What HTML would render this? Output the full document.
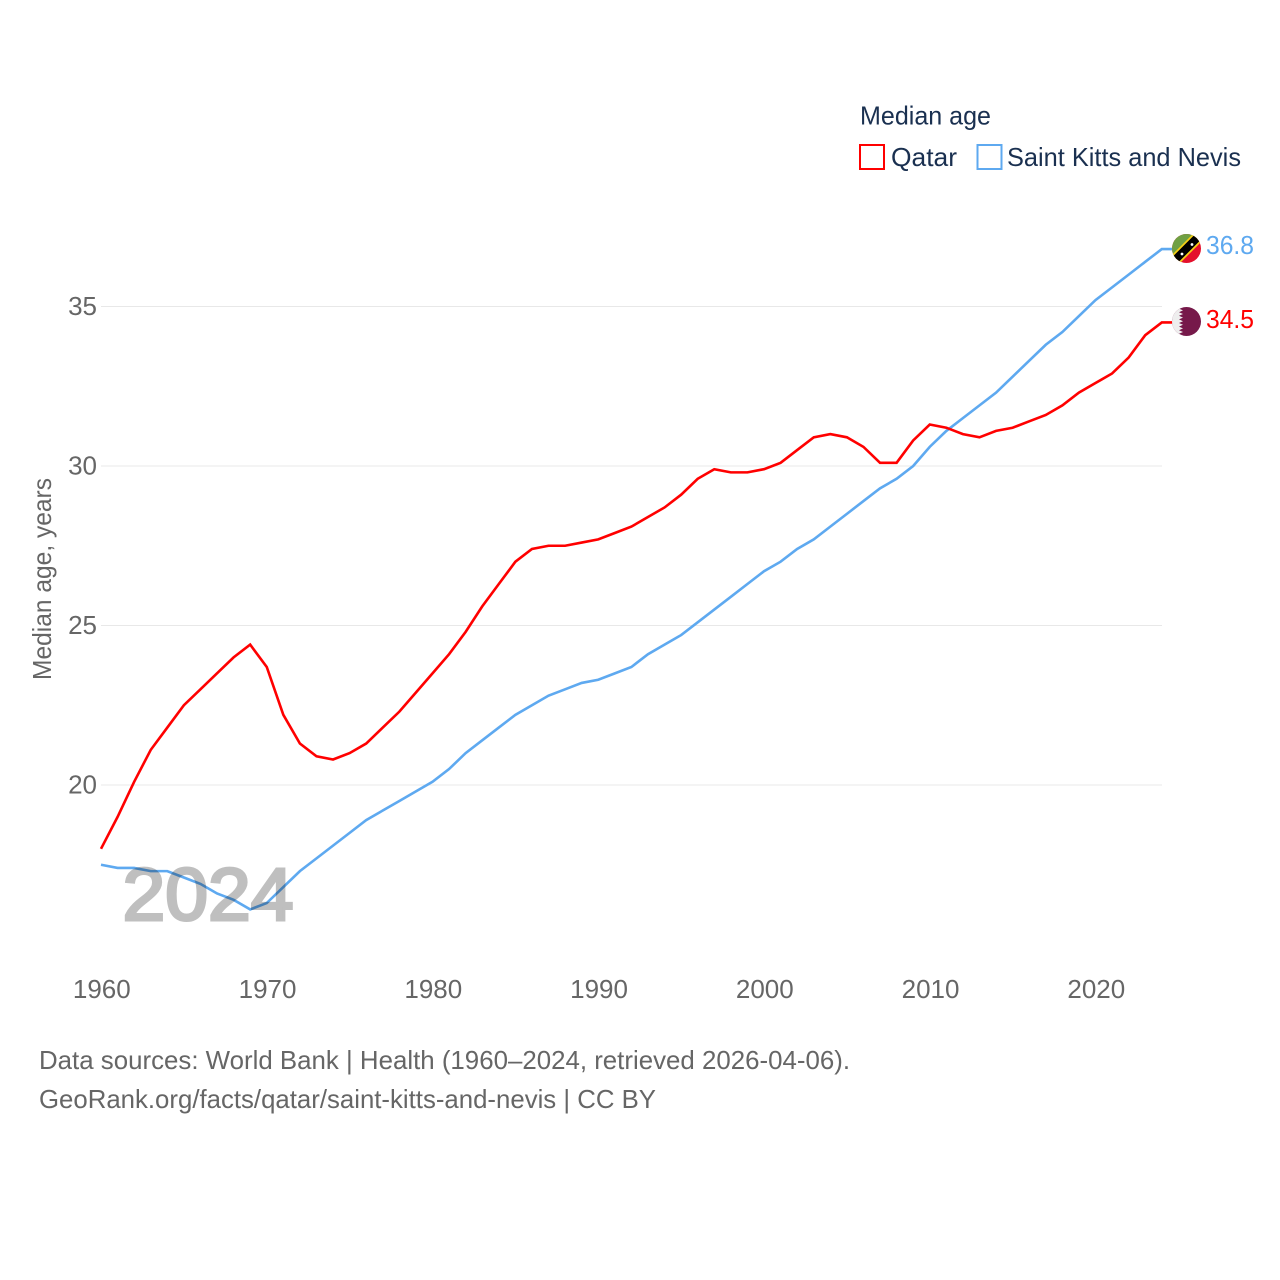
<!DOCTYPE html>
<html lang="en">
<head>
<meta charset="utf-8">
<title>Median age: Qatar and Saint Kitts and Nevis</title>
<style>
html,body{margin:0;padding:0;background:#fff;}
svg{display:block;}
text{font-family:"Liberation Sans",sans-serif;}
</style>
</head>
<body>
<svg id="chart" width="1280" height="1280" viewBox="0 0 1280 1280" xmlns="http://www.w3.org/2000/svg">
  <defs>
    <clipPath id="skn-clip"><circle cx="1186.5" cy="248.5" r="14.5"/></clipPath>
    <clipPath id="qat-clip"><circle cx="1186.5" cy="321.5" r="14.5"/></clipPath>
  </defs>
  <rect x="0" y="0" width="1280" height="1280" fill="#ffffff"/>
  <g id="grid"></g>
  <g id="y-ticks"></g>
  <g id="x-ticks"></g>
  <text transform="translate(51 579) rotate(-90)" text-anchor="middle" font-size="26" fill="#666666" textLength="202" lengthAdjust="spacingAndGlyphs">Median age, years</text>
  <g id="series"></g>
  <text x="122.5" y="920" font-size="74" fill="#bfbfbf" stroke="#bfbfbf" stroke-width="3" textLength="171" lengthAdjust="spacingAndGlyphs" style="mix-blend-mode:multiply">2024</text>

  <g clip-path="url(#skn-clip)">
    <rect x="1170" y="232" width="33" height="33" fill="#e4102c"/>
    <polygon points="1170,232 1203,232 1170,265" fill="#6fa043"/>
    <line x1="1170" y1="265" x2="1203" y2="232" stroke="#f7d116" stroke-width="11.5"/>
    <line x1="1170" y1="265" x2="1203" y2="232" stroke="#000000" stroke-width="8"/>
    <circle cx="1192" cy="244.5" r="1.4" fill="#ffffff"/>
    <circle cx="1182" cy="254" r="1.4" fill="#ffffff"/>
  </g>
  <g clip-path="url(#qat-clip)">
    <rect x="1170" y="305" width="33" height="33" fill="#76194a"/>
    <polygon points="1170,305 1179,305 1183,306.8 1179,308.6 1183,310.4 1179,312.2 1183,314 1179,315.8 1183,317.6 1179,319.4 1183,321.2 1179,323 1183,324.8 1179,326.6 1183,328.4 1179,330.2 1183,332 1179,333.8 1183,335.6 1179,338 1170,338" fill="#eeeeee"/>
  </g>

  <text x="1206" y="328" font-size="26" fill="#ff0000" textLength="48" lengthAdjust="spacingAndGlyphs">34.5</text>
  <text x="1206" y="254" font-size="26" fill="#5ea9f0" textLength="48" lengthAdjust="spacingAndGlyphs">36.8</text>

  <text x="860" y="124.5" font-size="26" fill="#1a3050" textLength="131" lengthAdjust="spacingAndGlyphs">Median age</text>
  <rect x="860" y="145" width="24" height="24" fill="none" stroke="#ff0000" stroke-width="2"/>
  <text x="891" y="166" font-size="26" fill="#1a3050" textLength="66" lengthAdjust="spacingAndGlyphs">Qatar</text>
  <rect x="977.5" y="145" width="24" height="24" fill="none" stroke="#5ea9f0" stroke-width="2"/>
  <text x="1007" y="166" font-size="26" fill="#1a3050" textLength="234" lengthAdjust="spacingAndGlyphs">Saint Kitts and Nevis</text>

  <text x="39" y="1069" font-size="26" fill="#666666" textLength="811" lengthAdjust="spacingAndGlyphs">Data sources: World Bank | Health (1960–2024, retrieved 2026-04-06).</text>
  <text x="39" y="1108" font-size="26" fill="#666666" textLength="617" lengthAdjust="spacingAndGlyphs">GeoRank.org/facts/qatar/saint-kitts-and-nevis | CC BY</text>
</svg>
<script>
const years = [1960,1961,1962,1963,1964,1965,1966,1967,1968,1969,1970,1971,1972,1973,1974,1975,1976,1977,1978,1979,1980,1981,1982,1983,1984,1985,1986,1987,1988,1989,1990,1991,1992,1993,1994,1995,1996,1997,1998,1999,2000,2001,2002,2003,2004,2005,2006,2007,2008,2009,2010,2011,2012,2013,2014,2015,2016,2017,2018,2019,2020,2021,2022,2023,2024];
const qatarValues = [18.0,19.0,20.1,21.1,21.8,22.5,23.0,23.5,24.0,24.4,23.7,22.2,21.3,20.9,20.8,21.0,21.3,21.8,22.3,22.9,23.5,24.1,24.8,25.6,26.3,27.0,27.4,27.5,27.5,27.6,27.7,27.9,28.1,28.4,28.7,29.1,29.6,29.9,29.8,29.8,29.9,30.1,30.5,30.9,31.0,30.9,30.6,30.1,30.1,30.8,31.3,31.2,31.0,30.9,31.1,31.2,31.4,31.6,31.9,32.3,32.6,32.9,33.4,34.1,34.5];
const saintKittsValues = [17.5,17.4,17.4,17.3,17.3,17.1,16.9,16.6,16.4,16.1,16.3,16.8,17.3,17.7,18.1,18.5,18.9,19.2,19.5,19.8,20.1,20.5,21.0,21.4,21.8,22.2,22.5,22.8,23.0,23.2,23.3,23.5,23.7,24.1,24.4,24.7,25.1,25.5,25.9,26.3,26.7,27.0,27.4,27.7,28.1,28.5,28.9,29.3,29.6,30.0,30.6,31.1,31.5,31.9,32.3,32.8,33.3,33.8,34.2,34.7,35.2,35.6,36.0,36.4,36.8];
const xTickLabels = [1960,1970,1980,1990,2000,2010,2020];
const yTickLabels = [20,25,30,35];

const NS = 'http://www.w3.org/2000/svg';
function xScale(year) { return 101 + (year - 1960) * (1095.5 - 101) / 60; }
function yScale(value) { return 785 - (value - 20) * (785 - 306.5) / 15; }

const gridGroup = document.getElementById('grid');
const yTickGroup = document.getElementById('y-ticks');
const xTickGroup = document.getElementById('x-ticks');
const seriesGroup = document.getElementById('series');

yTickLabels.forEach(function (tick) {
  const line = document.createElementNS(NS, 'line');
  
  
  line.setAttribute('x1', 101);
  line.setAttribute('x2', 1162);
  line.setAttribute('y1', yScale(tick));
  line.setAttribute('y2', yScale(tick));
  line.setAttribute('stroke', '#e8e8e8');
  line.setAttribute('stroke-width', '1');
  gridGroup.appendChild(line);

  const label = document.createElementNS(NS, 'text');
  
  
  label.setAttribute('x', 97);
  label.setAttribute('y', yScale(tick) + 8.5);
  label.setAttribute('text-anchor', 'end');
  label.setAttribute('font-size', '26');
  label.setAttribute('fill', '#666666');
  label.textContent = tick;
  yTickGroup.appendChild(label);
});

xTickLabels.forEach(function (tick) {
  const label = document.createElementNS(NS, 'text');
  
  
  label.setAttribute('x', xScale(tick) + 0.8);
  label.setAttribute('y', 998);
  label.setAttribute('text-anchor', 'middle');
  label.setAttribute('font-size', '26');
  label.setAttribute('fill', '#666666');
  label.textContent = tick;
  xTickGroup.appendChild(label);
});

function linePoints(values) {
  const pts = values.map(function (v, i) {
    return xScale(years[i]).toFixed(2) + ',' + yScale(v).toFixed(2);
  });
  pts.push('1172,' + yScale(values[values.length - 1]).toFixed(2));
  return pts.join(' ');
}

const saintKittsLine = document.createElementNS(NS, 'polyline');


saintKittsLine.setAttribute('points', linePoints(saintKittsValues));
saintKittsLine.setAttribute('fill', 'none');
saintKittsLine.setAttribute('stroke', '#5ea9f0');
saintKittsLine.setAttribute('stroke-width', '2.6');
seriesGroup.appendChild(saintKittsLine);

const qatarLine = document.createElementNS(NS, 'polyline');


qatarLine.setAttribute('points', linePoints(qatarValues));
qatarLine.setAttribute('fill', 'none');
qatarLine.setAttribute('stroke', '#ff0000');
qatarLine.setAttribute('stroke-width', '2.6');
seriesGroup.appendChild(qatarLine);
</script>
</body>
</html>
